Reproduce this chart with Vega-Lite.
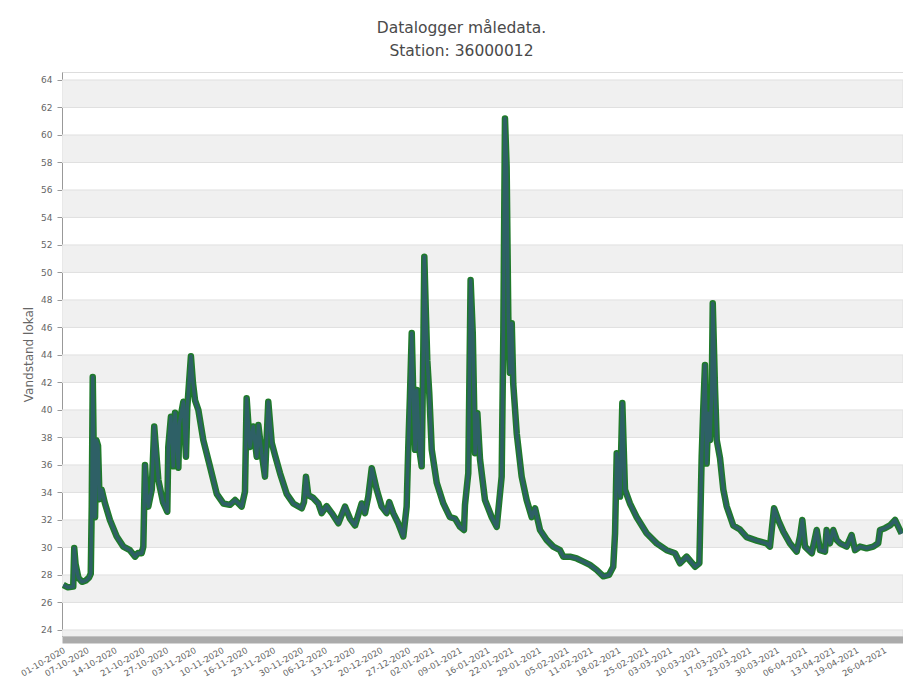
{
  "$schema": "https://vega.github.io/schema/vega-lite/v6.json",
  "width": 841,
  "height": 564,
  "autosize": {"type": "none"},
  "padding": {"left": 62, "top": 72, "right": 0, "bottom": 48},
  "background": "white",
  "title": {
    "text": ["Datalogger måledata.", "Station: 36000012"],
    "font": "DejaVu Sans",
    "fontSize": 15.5,
    "fontWeight": "normal",
    "color": "#4a4a4a",
    "lineHeight": 23,
    "anchor": "middle",
    "frame": "group",
    "dx": -21,
    "offset": 13
  },
  "config": {
    "view": {"stroke": "#dddddd"},
    "axis": {
      "labelFont": "DejaVu Sans",
      "titleFont": "DejaVu Sans",
      "labelColor": "#666666",
      "titleColor": "#666666",
      "titleFontWeight": "normal",
      "grid": false
    },
    "axisY": {
      "values": [24, 26, 28, 30, 32, 34, 36, 38, 40, 42, 44, 46, 48, 50, 52, 54, 56, 58, 60, 62, 64],
      "format": "d",
      "labelOverlap": false,
      "labelFontSize": 9,
      "labelPadding": 5,
      "tickSize": 5,
      "tickColor": "#999999",
      "domainColor": "#999999",
      "titleFontSize": 12,
      "titlePadding": 5
    }
  },
  "datasets": {
    "bands": [
      {"lo": 22, "hi": 24}, {"lo": 26, "hi": 28}, {"lo": 30, "hi": 32}, {"lo": 34, "hi": 36},
      {"lo": 38, "hi": 40}, {"lo": 42, "hi": 44}, {"lo": 46, "hi": 48}, {"lo": 50, "hi": 52},
      {"lo": 54, "hi": 56}, {"lo": 58, "hi": 60}, {"lo": 62, "hi": 64}
    ],
    "series": [
      {"t": "2020-10-01T08:00", "v": 27.27}, {"t": "2020-10-02T12:00", "v": 27.1}, {"t": "2020-10-03T20:00", "v": 27.15},
      {"t": "2020-10-04T02:00", "v": 29.96}, {"t": "2020-10-04T10:00", "v": 28.8}, {"t": "2020-10-05T03:00", "v": 27.8},
      {"t": "2020-10-06T01:00", "v": 27.5}, {"t": "2020-10-07T01:00", "v": 27.6}, {"t": "2020-10-07T19:00", "v": 27.8},
      {"t": "2020-10-08T06:00", "v": 28.1}, {"t": "2020-10-08T12:00", "v": 33.0}, {"t": "2020-10-08T18:00", "v": 42.4},
      {"t": "2020-10-09T00:00", "v": 37.0}, {"t": "2020-10-09T08:00", "v": 32.2}, {"t": "2020-10-09T16:00", "v": 37.8},
      {"t": "2020-10-10T02:00", "v": 37.4}, {"t": "2020-10-10T11:00", "v": 33.5}, {"t": "2020-10-11T00:00", "v": 34.2},
      {"t": "2020-10-11T20:00", "v": 33.2}, {"t": "2020-10-13T02:00", "v": 32.0}, {"t": "2020-10-14T19:00", "v": 30.8},
      {"t": "2020-10-16T11:00", "v": 30.06}, {"t": "2020-10-18T03:00", "v": 29.8}, {"t": "2020-10-19T10:00", "v": 29.33},
      {"t": "2020-10-20T04:00", "v": 29.6}, {"t": "2020-10-21T02:00", "v": 29.58}, {"t": "2020-10-21T12:00", "v": 30.06},
      {"t": "2020-10-21T22:00", "v": 36.0}, {"t": "2020-10-22T08:00", "v": 34.0}, {"t": "2020-10-22T18:00", "v": 32.97},
      {"t": "2020-10-23T15:00", "v": 34.2}, {"t": "2020-10-24T06:00", "v": 38.8}, {"t": "2020-10-25T07:00", "v": 34.9},
      {"t": "2020-10-26T11:00", "v": 33.3}, {"t": "2020-10-27T13:00", "v": 32.6}, {"t": "2020-10-27T19:00", "v": 37.3},
      {"t": "2020-10-28T11:00", "v": 39.5}, {"t": "2020-10-29T01:00", "v": 35.9}, {"t": "2020-10-29T12:00", "v": 39.8},
      {"t": "2020-10-30T08:00", "v": 35.8}, {"t": "2020-10-30T14:00", "v": 39.0}, {"t": "2020-10-31T14:00", "v": 40.6},
      {"t": "2020-11-01T06:00", "v": 36.6}, {"t": "2020-11-01T14:00", "v": 40.2}, {"t": "2020-11-02T12:00", "v": 43.9},
      {"t": "2020-11-03T00:00", "v": 42.0}, {"t": "2020-11-03T13:00", "v": 40.7}, {"t": "2020-11-04T09:00", "v": 40.0},
      {"t": "2020-11-05T15:00", "v": 37.8}, {"t": "2020-11-07T07:00", "v": 35.9}, {"t": "2020-11-09T00:00", "v": 33.9},
      {"t": "2020-11-10T16:00", "v": 33.2}, {"t": "2020-11-12T08:00", "v": 33.1}, {"t": "2020-11-13T15:00", "v": 33.45},
      {"t": "2020-11-15T07:00", "v": 32.97}, {"t": "2020-11-16T03:00", "v": 34.06}, {"t": "2020-11-16T13:00", "v": 40.85},
      {"t": "2020-11-17T09:00", "v": 37.3}, {"t": "2020-11-18T05:00", "v": 38.8}, {"t": "2020-11-19T02:00", "v": 36.6},
      {"t": "2020-11-19T12:00", "v": 38.9}, {"t": "2020-11-20T08:00", "v": 36.85}, {"t": "2020-11-21T04:00", "v": 35.15},
      {"t": "2020-11-22T00:00", "v": 40.6}, {"t": "2020-11-22T21:00", "v": 37.6}, {"t": "2020-11-23T17:00", "v": 36.7},
      {"t": "2020-11-24T23:00", "v": 35.4}, {"t": "2020-11-26T15:00", "v": 33.9}, {"t": "2020-11-28T07:00", "v": 33.2},
      {"t": "2020-11-30T10:00", "v": 32.85}, {"t": "2020-12-01T00:00", "v": 33.3}, {"t": "2020-12-01T12:00", "v": 35.15},
      {"t": "2020-12-02T02:00", "v": 33.8}, {"t": "2020-12-03T08:00", "v": 33.6}, {"t": "2020-12-04T15:00", "v": 33.2},
      {"t": "2020-12-05T11:00", "v": 32.5}, {"t": "2020-12-06T17:00", "v": 33.0}, {"t": "2020-12-08T00:00", "v": 32.5},
      {"t": "2020-12-09T16:00", "v": 31.76}, {"t": "2020-12-11T08:00", "v": 32.97}, {"t": "2020-12-12T14:00", "v": 32.1},
      {"t": "2020-12-13T21:00", "v": 31.6}, {"t": "2020-12-15T13:00", "v": 33.2}, {"t": "2020-12-16T09:00", "v": 32.5},
      {"t": "2020-12-17T05:00", "v": 33.7}, {"t": "2020-12-18T02:00", "v": 35.76}, {"t": "2020-12-19T08:00", "v": 34.2},
      {"t": "2020-12-20T14:00", "v": 32.97}, {"t": "2020-12-21T20:00", "v": 32.5}, {"t": "2020-12-22T12:00", "v": 33.3},
      {"t": "2020-12-23T12:00", "v": 32.5}, {"t": "2020-12-24T18:00", "v": 31.76}, {"t": "2020-12-26T01:00", "v": 30.8},
      {"t": "2020-12-26T21:00", "v": 32.97}, {"t": "2020-12-27T07:00", "v": 37.3}, {"t": "2020-12-27T17:00", "v": 41.0},
      {"t": "2020-12-28T04:00", "v": 45.6}, {"t": "2020-12-28T13:00", "v": 41.2}, {"t": "2020-12-29T00:00", "v": 37.1},
      {"t": "2020-12-29T10:00", "v": 41.45}, {"t": "2020-12-30T02:00", "v": 37.1}, {"t": "2020-12-30T16:00", "v": 35.9},
      {"t": "2020-12-31T02:00", "v": 44.4}, {"t": "2020-12-31T08:00", "v": 51.15}, {"t": "2020-12-31T18:00", "v": 46.8},
      {"t": "2021-01-01T02:00", "v": 43.6}, {"t": "2021-01-01T14:00", "v": 41.2}, {"t": "2021-01-02T05:00", "v": 37.1},
      {"t": "2021-01-03T11:00", "v": 34.7}, {"t": "2021-01-05T03:00", "v": 33.2}, {"t": "2021-01-06T19:00", "v": 32.2},
      {"t": "2021-01-08T02:00", "v": 32.1}, {"t": "2021-01-09T08:00", "v": 31.5}, {"t": "2021-01-10T08:00", "v": 31.27},
      {"t": "2021-01-10T14:00", "v": 33.1}, {"t": "2021-01-11T10:00", "v": 35.4}, {"t": "2021-01-12T00:00", "v": 49.45},
      {"t": "2021-01-12T13:00", "v": 45.6}, {"t": "2021-01-13T03:00", "v": 36.85}, {"t": "2021-01-13T17:00", "v": 39.76},
      {"t": "2021-01-14T09:00", "v": 36.4}, {"t": "2021-01-15T15:00", "v": 33.45}, {"t": "2021-01-17T08:00", "v": 32.2},
      {"t": "2021-01-18T14:00", "v": 31.5}, {"t": "2021-01-19T06:00", "v": 33.45}, {"t": "2021-01-19T20:00", "v": 35.15},
      {"t": "2021-01-20T06:00", "v": 45.6}, {"t": "2021-01-20T16:00", "v": 61.2}, {"t": "2021-01-21T02:00", "v": 57.7},
      {"t": "2021-01-21T12:00", "v": 46.8}, {"t": "2021-01-21T22:00", "v": 42.7}, {"t": "2021-01-22T09:00", "v": 46.3},
      {"t": "2021-01-22T18:00", "v": 41.9}, {"t": "2021-01-23T15:00", "v": 38.3}, {"t": "2021-01-24T21:00", "v": 35.15},
      {"t": "2021-01-26T03:00", "v": 33.45}, {"t": "2021-01-27T10:00", "v": 32.2}, {"t": "2021-01-28T06:00", "v": 32.85},
      {"t": "2021-01-29T12:00", "v": 31.27}, {"t": "2021-01-31T04:00", "v": 30.55}, {"t": "2021-02-01T20:00", "v": 30.06},
      {"t": "2021-02-03T13:00", "v": 29.8}, {"t": "2021-02-04T09:00", "v": 29.33}, {"t": "2021-02-06T01:00", "v": 29.33},
      {"t": "2021-02-07T18:00", "v": 29.2}, {"t": "2021-02-09T10:00", "v": 28.97}, {"t": "2021-02-11T02:00", "v": 28.73},
      {"t": "2021-02-12T19:00", "v": 28.36}, {"t": "2021-02-14T11:00", "v": 27.9}, {"t": "2021-02-15T21:00", "v": 28.0},
      {"t": "2021-02-16T23:00", "v": 28.6}, {"t": "2021-02-17T10:00", "v": 31.03}, {"t": "2021-02-17T20:00", "v": 36.85},
      {"t": "2021-02-18T16:00", "v": 33.7}, {"t": "2021-02-19T06:00", "v": 40.5}, {"t": "2021-02-19T22:00", "v": 34.2},
      {"t": "2021-02-21T04:00", "v": 33.2}, {"t": "2021-02-22T21:00", "v": 32.2}, {"t": "2021-02-25T09:00", "v": 31.03},
      {"t": "2021-02-27T22:00", "v": 30.3}, {"t": "2021-03-02T10:00", "v": 29.8}, {"t": "2021-03-04T13:00", "v": 29.58},
      {"t": "2021-03-05T19:00", "v": 28.85}, {"t": "2021-03-07T11:00", "v": 29.33}, {"t": "2021-03-09T14:00", "v": 28.6},
      {"t": "2021-03-10T16:00", "v": 28.85}, {"t": "2021-03-11T06:00", "v": 36.6}, {"t": "2021-03-11T16:00", "v": 40.2},
      {"t": "2021-03-12T02:00", "v": 43.27}, {"t": "2021-03-12T12:00", "v": 36.1}, {"t": "2021-03-12T22:00", "v": 39.76},
      {"t": "2021-03-13T08:00", "v": 37.8}, {"t": "2021-03-13T19:00", "v": 41.45}, {"t": "2021-03-14T01:00", "v": 47.76},
      {"t": "2021-03-14T15:00", "v": 41.45}, {"t": "2021-03-15T01:00", "v": 37.8}, {"t": "2021-03-15T21:00", "v": 36.5},
      {"t": "2021-03-16T17:00", "v": 34.2}, {"t": "2021-03-17T13:00", "v": 33.0}, {"t": "2021-03-19T05:00", "v": 31.6},
      {"t": "2021-03-20T22:00", "v": 31.3}, {"t": "2021-03-22T14:00", "v": 30.75}, {"t": "2021-03-25T03:00", "v": 30.5},
      {"t": "2021-03-27T15:00", "v": 30.3}, {"t": "2021-03-28T11:00", "v": 30.06}, {"t": "2021-03-29T12:00", "v": 32.85},
      {"t": "2021-03-30T13:00", "v": 32.0}, {"t": "2021-03-31T20:00", "v": 31.15}, {"t": "2021-04-02T12:00", "v": 30.3},
      {"t": "2021-04-04T05:00", "v": 29.7}, {"t": "2021-04-05T01:00", "v": 30.8}, {"t": "2021-04-05T15:00", "v": 32.0},
      {"t": "2021-04-06T07:00", "v": 30.06}, {"t": "2021-04-08T00:00", "v": 29.58}, {"t": "2021-04-09T06:00", "v": 31.27},
      {"t": "2021-04-10T02:00", "v": 29.8}, {"t": "2021-04-11T08:00", "v": 29.7}, {"t": "2021-04-11T18:00", "v": 31.27},
      {"t": "2021-04-12T14:00", "v": 30.3}, {"t": "2021-04-13T10:00", "v": 31.27}, {"t": "2021-04-14T07:00", "v": 30.55},
      {"t": "2021-04-15T03:00", "v": 30.3}, {"t": "2021-04-16T19:00", "v": 30.06}, {"t": "2021-04-18T01:00", "v": 30.9},
      {"t": "2021-04-18T22:00", "v": 29.8}, {"t": "2021-04-20T04:00", "v": 30.06}, {"t": "2021-04-21T20:00", "v": 29.94},
      {"t": "2021-04-23T12:00", "v": 30.06}, {"t": "2021-04-24T18:00", "v": 30.3}, {"t": "2021-04-25T05:00", "v": 31.27},
      {"t": "2021-04-26T11:00", "v": 31.4}, {"t": "2021-04-27T17:00", "v": 31.6}, {"t": "2021-04-29T00:00", "v": 32.0},
      {"t": "2021-04-29T20:00", "v": 31.5}, {"t": "2021-04-30T16:00", "v": 31.0}
    ]
  },
  "layer": [
    {
      "data": {"name": "bands"},
      "mark": {"type": "rect", "color": "#f0f0f0", "stroke": "#e0e0e0", "strokeWidth": 1, "clip": true},
      "encoding": {
        "y": {
          "field": "lo",
          "type": "quantitative",
          "scale": {"domain": [23.56, 64.58], "nice": false, "zero": false},
          "title": "Vandstand lokal",
          "axis": {
            "values": [24, 26, 28, 30, 32, 34, 36, 38, 40, 42, 44, 46, 48, 50, 52, 54, 56, 58, 60, 62, 64],
            "format": "d",
            "labelOverlap": false,
            "labelFontSize": 9,
            "labelPadding": 5,
            "tickSize": 5,
            "tickColor": "#999999",
            "domainColor": "#999999",
            "titleFontSize": 12,
            "titlePadding": 5
          }
        },
        "y2": {"field": "hi"}
      }
    },
    {
      "data": {"name": "series"},
      "encoding": {
        "x": {
          "field": "t",
          "type": "temporal",
          "title": null,
          "scale": {"domain": [{"year": 2020, "month": 10, "date": 1}, {"year": 2021, "month": 5, "date": 1}]},
          "axis": {
            "values": [
              {"year": 2020, "month": 10, "date": 1}, {"year": 2020, "month": 10, "date": 7}, {"year": 2020, "month": 10, "date": 14},
              {"year": 2020, "month": 10, "date": 21}, {"year": 2020, "month": 10, "date": 27}, {"year": 2020, "month": 11, "date": 3},
              {"year": 2020, "month": 11, "date": 10}, {"year": 2020, "month": 11, "date": 16}, {"year": 2020, "month": 11, "date": 23},
              {"year": 2020, "month": 11, "date": 30}, {"year": 2020, "month": 12, "date": 6}, {"year": 2020, "month": 12, "date": 13},
              {"year": 2020, "month": 12, "date": 20}, {"year": 2020, "month": 12, "date": 27}, {"year": 2021, "month": 1, "date": 2},
              {"year": 2021, "month": 1, "date": 9}, {"year": 2021, "month": 1, "date": 16}, {"year": 2021, "month": 1, "date": 22},
              {"year": 2021, "month": 1, "date": 29}, {"year": 2021, "month": 2, "date": 5}, {"year": 2021, "month": 2, "date": 11},
              {"year": 2021, "month": 2, "date": 18}, {"year": 2021, "month": 2, "date": 25}, {"year": 2021, "month": 3, "date": 3},
              {"year": 2021, "month": 3, "date": 10}, {"year": 2021, "month": 3, "date": 17}, {"year": 2021, "month": 3, "date": 23},
              {"year": 2021, "month": 3, "date": 30}, {"year": 2021, "month": 4, "date": 6}, {"year": 2021, "month": 4, "date": 13},
              {"year": 2021, "month": 4, "date": 19}, {"year": 2021, "month": 4, "date": 26}
            ],
            "format": "%d-%m-%Y",
            "labelAngle": -30,
            "labelFontSize": 8.5,
            "labelPadding": 6,
            "labelOverlap": false,
            "offset": 3.5,
            "domainWidth": 7,
            "domainColor": "#ababab",
            "ticks": false
          }
        },
        "y": {
          "field": "v",
          "type": "quantitative",
          "title": "Vandstand lokal",
          "scale": {"domain": [23.56, 64.58], "nice": false, "zero": false},
          "axis": {
            "values": [24, 26, 28, 30, 32, 34, 36, 38, 40, 42, 44, 46, 48, 50, 52, 54, 56, 58, 60, 62, 64],
            "format": "d",
            "labelOverlap": false,
            "labelFontSize": 9,
            "labelPadding": 5,
            "tickSize": 5,
            "tickColor": "#999999",
            "domainColor": "#999999",
            "titleFontSize": 12,
            "titlePadding": 5
          }
        }
      },
      "layer": [
        {"mark": {"type": "line", "color": "#1f7a2a", "strokeWidth": 6.5, "clip": true, "strokeJoin": "round"}},
        {"mark": {"type": "line", "color": "#2e6066", "strokeWidth": 3.5, "clip": true, "strokeJoin": "round"}}
      ]
    }
  ]
}
